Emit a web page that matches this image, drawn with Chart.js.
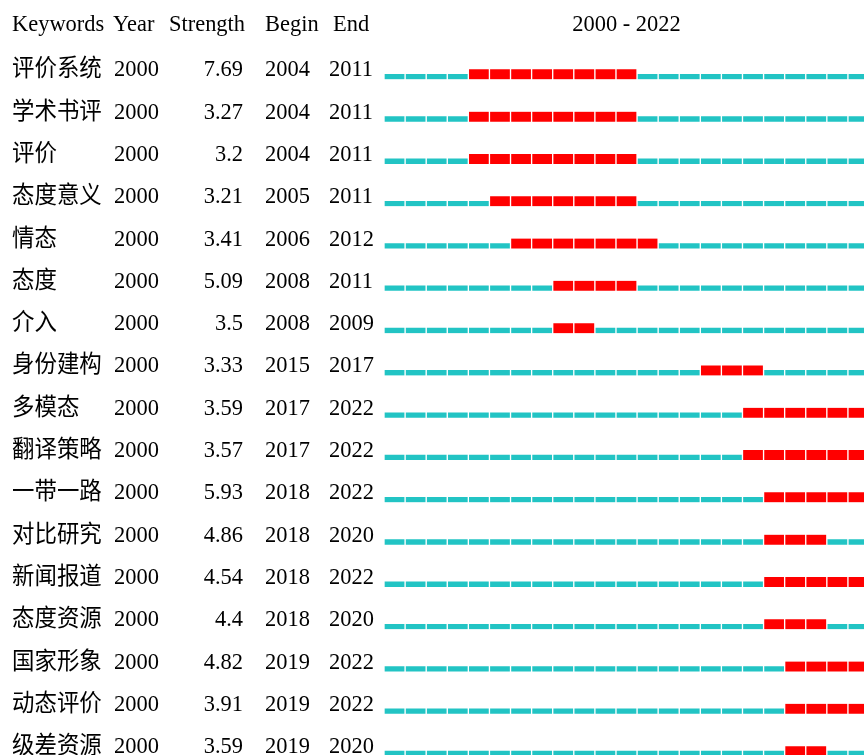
<!DOCTYPE html>
<html>
<head>
<meta charset="utf-8">
<script src="https://cdn.jsdelivr.net/npm/chart.js@4.4.0/dist/chart.umd.min.js"></script>
<style>
    html, body { margin: 0; padding: 0; background: #fff; overflow: hidden; }
    #wrap { position: absolute; left: 0; top: 0; width: 872px; height: 780px; }
</style>
</head>
<body>
<div id="wrap"><canvas id="burstChart" width="872" height="780"></canvas></div>
<script>
const keywords = ['评价系统', '学术书评', '评价', '态度意义', '情态', '态度', '介入', '身份建构', '多模态',
    '翻译策略', '一带一路', '对比研究', '新闻报道', '态度资源', '国家形象', '动态评价', '级差资源'];
const firstYears = [2000, 2000, 2000, 2000, 2000, 2000, 2000, 2000, 2000, 2000, 2000, 2000, 2000, 2000, 2000, 2000, 2000];
const strengths = ['7.69', '3.27', '3.2', '3.21', '3.41', '5.09', '3.5', '3.33', '3.59',
    '3.57', '5.93', '4.86', '4.54', '4.4', '4.82', '3.91', '3.59'];
const begins = [2004, 2004, 2004, 2005, 2006, 2008, 2008, 2015, 2017, 2017, 2018, 2018, 2018, 2018, 2019, 2019, 2019];
const ends = [2011, 2011, 2011, 2011, 2012, 2011, 2009, 2017, 2022, 2022, 2022, 2020, 2022, 2020, 2022, 2022, 2020];
const years = [2000, 2001, 2002, 2003, 2004, 2005, 2006, 2007, 2008, 2009, 2010, 2011,
    2012, 2013, 2014, 2015, 2016, 2017, 2018, 2019, 2020, 2021, 2022];

const RED = '#ff0000';
const CYAN = '#22c4c4';
const FONT = "24px 'Liberation Serif', 'Noto Sans CJK SC', serif";
const X_SQUEEZE = 0.935;

function inBurst(row, year) {
    return year >= begins[row] && year <= ends[row];
}

const datasets = years.map(year => ({
    label: String(year),
    data: keywords.map(() => [year, year + 1]),
    grouped: false,
    barThickness: 10,
    borderSkipped: false,
    borderColor: '#ffffff',
    backgroundColor: ctx => inBurst(ctx.dataIndex, year) ? RED : CYAN,
    borderWidth: ctx => inBurst(ctx.dataIndex, year)
        ? { top: 0, bottom: 0, left: 1, right: 1 }
        : { top: 5, bottom: 0, left: 1, right: 1 }
}));

// the reference text is slightly narrower than a plain serif face
function putText(ctx, text, x, y, align) {
    ctx.save();
    ctx.translate(x, y);
    ctx.scale(X_SQUEEZE, 1);
    ctx.textAlign = align || 'left';
    ctx.fillText(text, 0, 0);
    ctx.restore();
}

const tablePlugin = {
    id: 'tableText',
    afterDraw(chart) {
        const ctx = chart.ctx;
        const yScale = chart.scales.y;
        const area = chart.chartArea;
        ctx.save();
        ctx.font = FONT;
        ctx.fillStyle = '#000';
        ctx.textBaseline = 'alphabetic';

        // header
        putText(ctx, 'Keywords', 12, 31);
        putText(ctx, 'Year', 113, 31);
        putText(ctx, 'Strength', 169, 31);
        putText(ctx, 'Begin', 265, 31);
        putText(ctx, 'End', 333, 31);
        putText(ctx, years[0] + ' - ' + years[years.length - 1], (area.left + area.right) / 2, 31, 'center');

        keywords.forEach((kw, i) => {
            const y = yScale.getPixelForValue(i) + 2;
            putText(ctx, kw, 12, y);
            putText(ctx, String(firstYears[i]), 114, y);
            putText(ctx, strengths[i], 243, y, 'right');
            putText(ctx, String(begins[i]), 265, y);
            putText(ctx, String(ends[i]), 329, y);
        });
        ctx.restore();
    }
};

new Chart(document.getElementById('burstChart'), {
    type: 'bar',
    data: { labels: keywords, datasets: datasets },
    options: {
        indexAxis: 'y',
        responsive: false,
        animation: false,
        devicePixelRatio: 1,
        layout: { padding: { left: 384, top: 53.2, right: 3, bottom: 7.7 } },
        scales: {
            x: { type: 'linear', min: years[0], max: years[years.length - 1] + 1, display: false },
            y: { type: 'category', display: false, offset: true }
        },
        plugins: {
            legend: { display: false },
            tooltip: { enabled: false },
            title: { display: false }
        }
    },
    plugins: [tablePlugin]
});
</script>
</body>
</html>
